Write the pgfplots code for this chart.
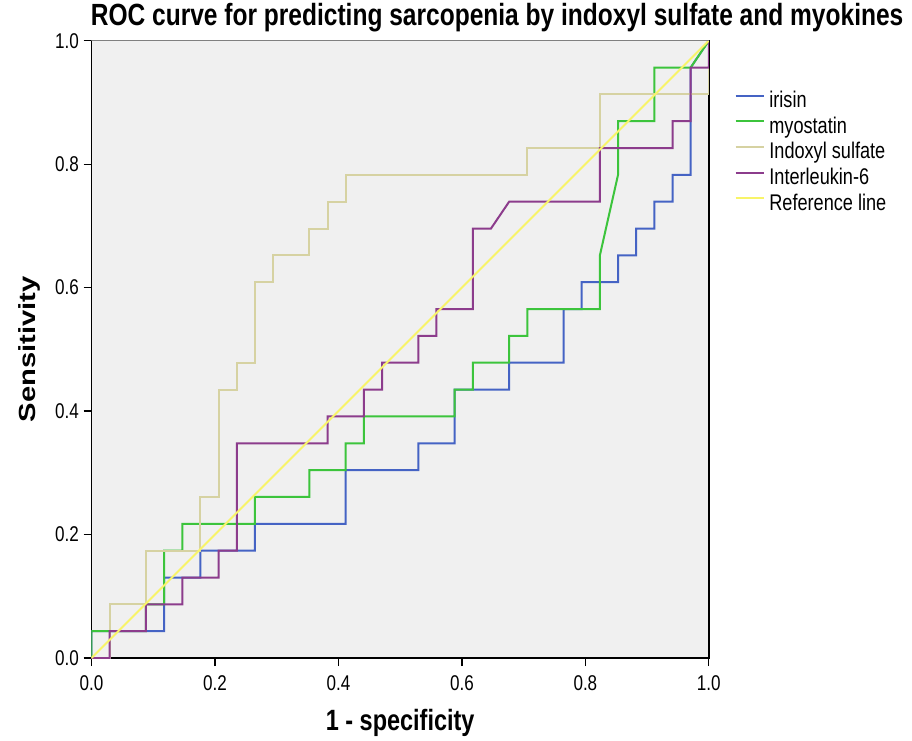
\documentclass[border=0pt]{standalone}
\usepackage{fontspec}
\setmainfont{Liberation Sans}[FakeStretch=0.8]
\newfontfamily\vfont{Liberation Sans}[FakeStretch=1.25]
\usepackage{pgfplots}
\pgfplotsset{compat=1.18}

\definecolor{bgplot}{HTML}{F0F0F0}
\definecolor{cirisin}{HTML}{4563C4}
\definecolor{cmyo}{HTML}{3CC43C}
\definecolor{cindox}{HTML}{D6D2A2}
\definecolor{cil}{HTML}{8C3C8C}
\definecolor{cref}{HTML}{F8F468}

% ROC step curves, x = 1 - specificity, y = sensitivity
\pgfplotstableread{
x y
0 0
0 0.0435
0.1176 0.0435
0.1176 0.1304
0.1765 0.1304
0.1765 0.1739
0.2647 0.1739
0.2647 0.2174
0.4118 0.2174
0.4118 0.3043
0.5294 0.3043
0.5294 0.3478
0.5882 0.3478
0.5882 0.4348
0.6765 0.4348
0.6765 0.4783
0.7647 0.4783
0.7647 0.5652
0.7941 0.5652
0.7941 0.6087
0.8529 0.6087
0.8529 0.6522
0.8824 0.6522
0.8824 0.6957
0.9118 0.6957
0.9118 0.7391
0.9412 0.7391
0.9412 0.7826
0.9706 0.7826
0.9706 0.9565
1 1
}\irisin

\pgfplotstableread{
x y
0 0
0 0.0435
0.0882 0.0435
0.0882 0.0870
0.1176 0.0870
0.1176 0.1739
0.1471 0.1739
0.1471 0.2174
0.2647 0.2174
0.2647 0.2609
0.3529 0.2609
0.3529 0.3043
0.4118 0.3043
0.4118 0.3478
0.4412 0.3478
0.4412 0.3913
0.5882 0.3913
0.5882 0.4348
0.6176 0.4348
0.6176 0.4783
0.6765 0.4783
0.6765 0.5217
0.7059 0.5217
0.7059 0.5652
0.8235 0.5652
0.8235 0.6522
0.8529 0.7826
0.8529 0.8696
0.9118 0.8696
0.9118 0.9565
0.9706 0.9565
1 1
}\myostatin

\pgfplotstableread{
x y
0 0
0.0294 0
0.0294 0.0870
0.0882 0.0870
0.0882 0.1739
0.1765 0.1739
0.1765 0.2609
0.2059 0.2609
0.2059 0.4348
0.2353 0.4348
0.2353 0.4783
0.2647 0.4783
0.2647 0.6087
0.2941 0.6087
0.2941 0.6522
0.3529 0.6522
0.3529 0.6957
0.3824 0.6957
0.3824 0.7391
0.4118 0.7391
0.4118 0.7826
0.7059 0.7826
0.7059 0.8261
0.8235 0.8261
0.8235 0.9130
1 0.9130
1 1
}\indoxyl

\pgfplotstableread{
x y
0 0
0.0294 0
0.0294 0.0435
0.0882 0.0435
0.0882 0.0870
0.1471 0.0870
0.1471 0.1304
0.2059 0.1304
0.2059 0.1739
0.2353 0.1739
0.2353 0.3478
0.3824 0.3478
0.3824 0.3913
0.4412 0.3913
0.4412 0.4348
0.4706 0.4348
0.4706 0.4783
0.5294 0.4783
0.5294 0.5217
0.5588 0.5217
0.5588 0.5652
0.6176 0.5652
0.6176 0.6957
0.6471 0.6957
0.6765 0.7391
0.8235 0.7391
0.8235 0.8261
0.9412 0.8261
0.9412 0.8696
0.9706 0.8696
0.9706 0.9565
1 0.9565
1 1
}\interleukin

\begin{document}
\begin{tikzpicture}[x=0.75pt,y=0.75pt]
\path[use as bounding box] (-91.5,-82) rectangle (820.5,658);
\begin{axis}[
  at={(0,0)}, anchor=south west,
  scale only axis,
  width=463pt, height=463pt,
  xmin=0, xmax=1, ymin=0, ymax=1,
  xtick={0,0.2,...,1}, ytick={0,0.2,...,1},
  tick pos=left,
  tick align=outside,
  major tick length=6pt,
  tick style={black, line width=0.9pt},
  axis line style={black, line width=1.2pt},
  axis background/.style={fill=bgplot},
  tick label style={font=\fontsize{16}{18}\selectfont},
  xticklabel style={yshift=-4pt},
  /pgf/number format/.cd, fixed, fixed zerofill, precision=1, assume math mode=true,
  /pgfplots/.cd,
  title={ROC curve for predicting sarcopenia by indoxyl sulfate and myokines},
  title style={font=\bfseries\fontsize{23}{26}\selectfont, at={(0.657,1.024)}, anchor=base, yshift=-6pt},
  xlabel={1 - specificity},
  xlabel style={font=\bfseries\fontsize{22}{24}\selectfont, at={(0.5,-0.105)}, anchor=center},
  ylabel={\vfont\bfseries Sensitivity},
  ylabel style={font=\fontsize{17.5}{20}\selectfont, at={(-0.1,0.5)}, anchor=center},
  legend style={draw=none, fill=none, at={(1.035,0.922)}, anchor=north west,
    font=\fontsize{17}{19}\selectfont, row sep=4.2pt,
    nodes={inner sep=0pt, text height=12pt, text depth=3pt}, column sep=3.5pt},
  legend cell align=left,
  legend image code/.code={\draw[#1] (0pt,4.5pt) -- (21pt,4.5pt);},
  every axis plot/.append style={line width=1.5pt, line join=miter},
]
\addplot[cirisin] table {\irisin};
\addlegendentry{irisin}
\addplot[cmyo] table {\myostatin};
\addlegendentry{myostatin}
\addplot[cindox] table {\indoxyl};
\addlegendentry{Indoxyl sulfate}
\addplot[cil] table {\interleukin};
\addlegendentry{Interleukin-6}
\addplot[cref] coordinates {(0,0) (1,1)};
\addlegendentry{Reference line}
\draw[gray, line width=1.2pt] (rel axis cs:0,1) -- (rel axis cs:1,1);
\end{axis}
\end{tikzpicture}
\end{document}
